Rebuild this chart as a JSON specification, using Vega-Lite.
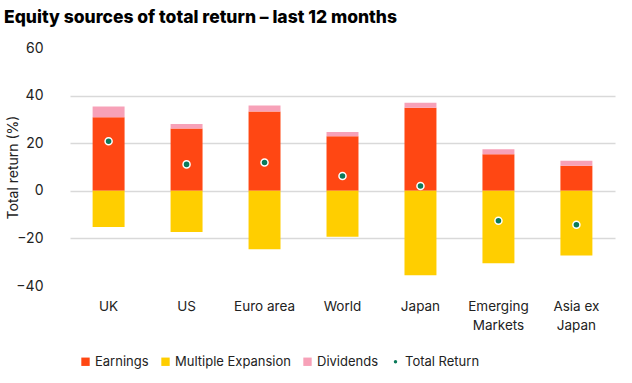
{
  "$schema": "https://vega.github.io/schema/vega-lite/v6.json",
  "autosize": {"type": "none"},
  "width": 545,
  "height": 238,
  "padding": {"left": 70, "top": 48, "right": 17, "bottom": 97},
  "title": {
    "text": "Equity sources of total return – last 12 months",
    "anchor": "start",
    "frame": "group",
    "dx": -66,
    "offset": 15,
    "font": "Inter",
    "fontSize": 17.5,
    "fontWeight": 800,
    "color": "#000000"
  },
  "data": {
    "values": [
      {"region": "UK", "component": "Earnings", "value": 30.9},
      {"region": "UK", "component": "Multiple Expansion", "value": -15.2},
      {"region": "UK", "component": "Dividends", "value": 4.5},
      {"region": "UK", "component": "Total Return", "value": 20.8},
      {"region": "US", "component": "Earnings", "value": 26.2},
      {"region": "US", "component": "Multiple Expansion", "value": -17.3},
      {"region": "US", "component": "Dividends", "value": 1.9},
      {"region": "US", "component": "Total Return", "value": 11.1},
      {"region": "Euro area", "component": "Earnings", "value": 33.3},
      {"region": "Euro area", "component": "Multiple Expansion", "value": -24.6},
      {"region": "Euro area", "component": "Dividends", "value": 2.5},
      {"region": "Euro area", "component": "Total Return", "value": 11.9},
      {"region": "World", "component": "Earnings", "value": 22.9},
      {"region": "World", "component": "Multiple Expansion", "value": -19.3},
      {"region": "World", "component": "Dividends", "value": 1.8},
      {"region": "World", "component": "Total Return", "value": 6.2},
      {"region": "Japan", "component": "Earnings", "value": 34.9},
      {"region": "Japan", "component": "Multiple Expansion", "value": -35.5},
      {"region": "Japan", "component": "Dividends", "value": 2.1},
      {"region": "Japan", "component": "Total Return", "value": 2.0},
      {"region": "Emerging Markets", "component": "Earnings", "value": 15.4},
      {"region": "Emerging Markets", "component": "Multiple Expansion", "value": -30.4},
      {"region": "Emerging Markets", "component": "Dividends", "value": 2.1},
      {"region": "Emerging Markets", "component": "Total Return", "value": -12.6},
      {"region": "Asia ex Japan", "component": "Earnings", "value": 10.5},
      {"region": "Asia ex Japan", "component": "Multiple Expansion", "value": -27.2},
      {"region": "Asia ex Japan", "component": "Dividends", "value": 2.1},
      {"region": "Asia ex Japan", "component": "Total Return", "value": -14.3}
    ]
  },
  "encoding": {
    "x": {
      "field": "region",
      "type": "nominal",
      "sort": ["UK", "US", "Euro area", "World", "Japan", "Emerging Markets", "Asia ex Japan"],
      "scale": {"paddingInner": 0.59, "paddingOuter": 0.29},
      "axis": {
        "title": null,
        "domain": false,
        "ticks": false,
        "labelAngle": 0,
        "labelFont": "Inter",
        "labelFontSize": 13.5,
        "labelColor": "#222222",
        "labelPadding": 13,
        "labelLineHeight": 19,
        "labelBaseline": "top",
        "labelExpr": "datum.label == 'Emerging Markets' ? ['Emerging', 'Markets'] : datum.label == 'Asia ex Japan' ? ['Asia ex', 'Japan'] : datum.label"
      }
    },
    "y": {
      "field": "value",
      "type": "quantitative",
      "scale": {"domain": [-40, 60], "nice": false},
      "axis": {
        "title": "Total return (%)",
        "titleFont": "Inter",
        "titleFontSize": 14,
        "titleFontWeight": "normal",
        "titleColor": "#222222",
        "titlePadding": -5,
        "values": [-40, -20, 0, 20, 40, 60],
        "domain": false,
        "ticks": false,
        "labelFont": "Inter",
        "labelFontSize": 14,
        "labelColor": "#222222",
        "labelPadding": 27,
        "gridColor": "#d9d9d9",
        "gridWidth": 1.5,
        "gridOpacity": {"condition": {"test": "datum.value == 60 || datum.value == -40", "value": 0}, "value": 1}
      }
    },
    "color": {
      "field": "component",
      "type": "nominal",
      "scale": {
        "domain": ["Earnings", "Multiple Expansion", "Dividends", "Total Return"],
        "range": ["#FF4713", "#FFCE00", "#F7A1B8", "#0B7A5A"]
      },
      "legend": {
        "title": null,
        "orient": "none",
        "legendX": 9,
        "legendY": 307,
        "direction": "horizontal",
        "labelFont": "Inter",
        "labelFontSize": 13,
        "labelColor": "#222222",
        "columnPadding": 10,
        "symbolSize": 70,
        "labelOffset": 3,
        "symbolStrokeWidth": 0,
        "encode": {
          "symbols": {
            "update": {
              "shape": {"signal": "datum.label === 'Total Return' ? 'circle' : 'square'"},
              "size": {"signal": "datum.label === 'Total Return' ? 12 : 70"}
            }
          }
        }
      }
    }
  },
  "layer": [
    {
      "transform": [{"filter": "datum.component != 'Total Return'"}],
      "mark": {"type": "bar"},
      "encoding": {
        "order": {"field": "component", "sort": "descending"}
      }
    },
    {
      "transform": [{"filter": "datum.component == 'Total Return'"}],
      "mark": {"type": "point", "filled": true, "stroke": "#ffffff", "strokeWidth": 1.5, "size": 50, "opacity": 1}
    }
  ],
  "config": {
    "view": {"stroke": null},
    "font": "Inter"
  }
}
